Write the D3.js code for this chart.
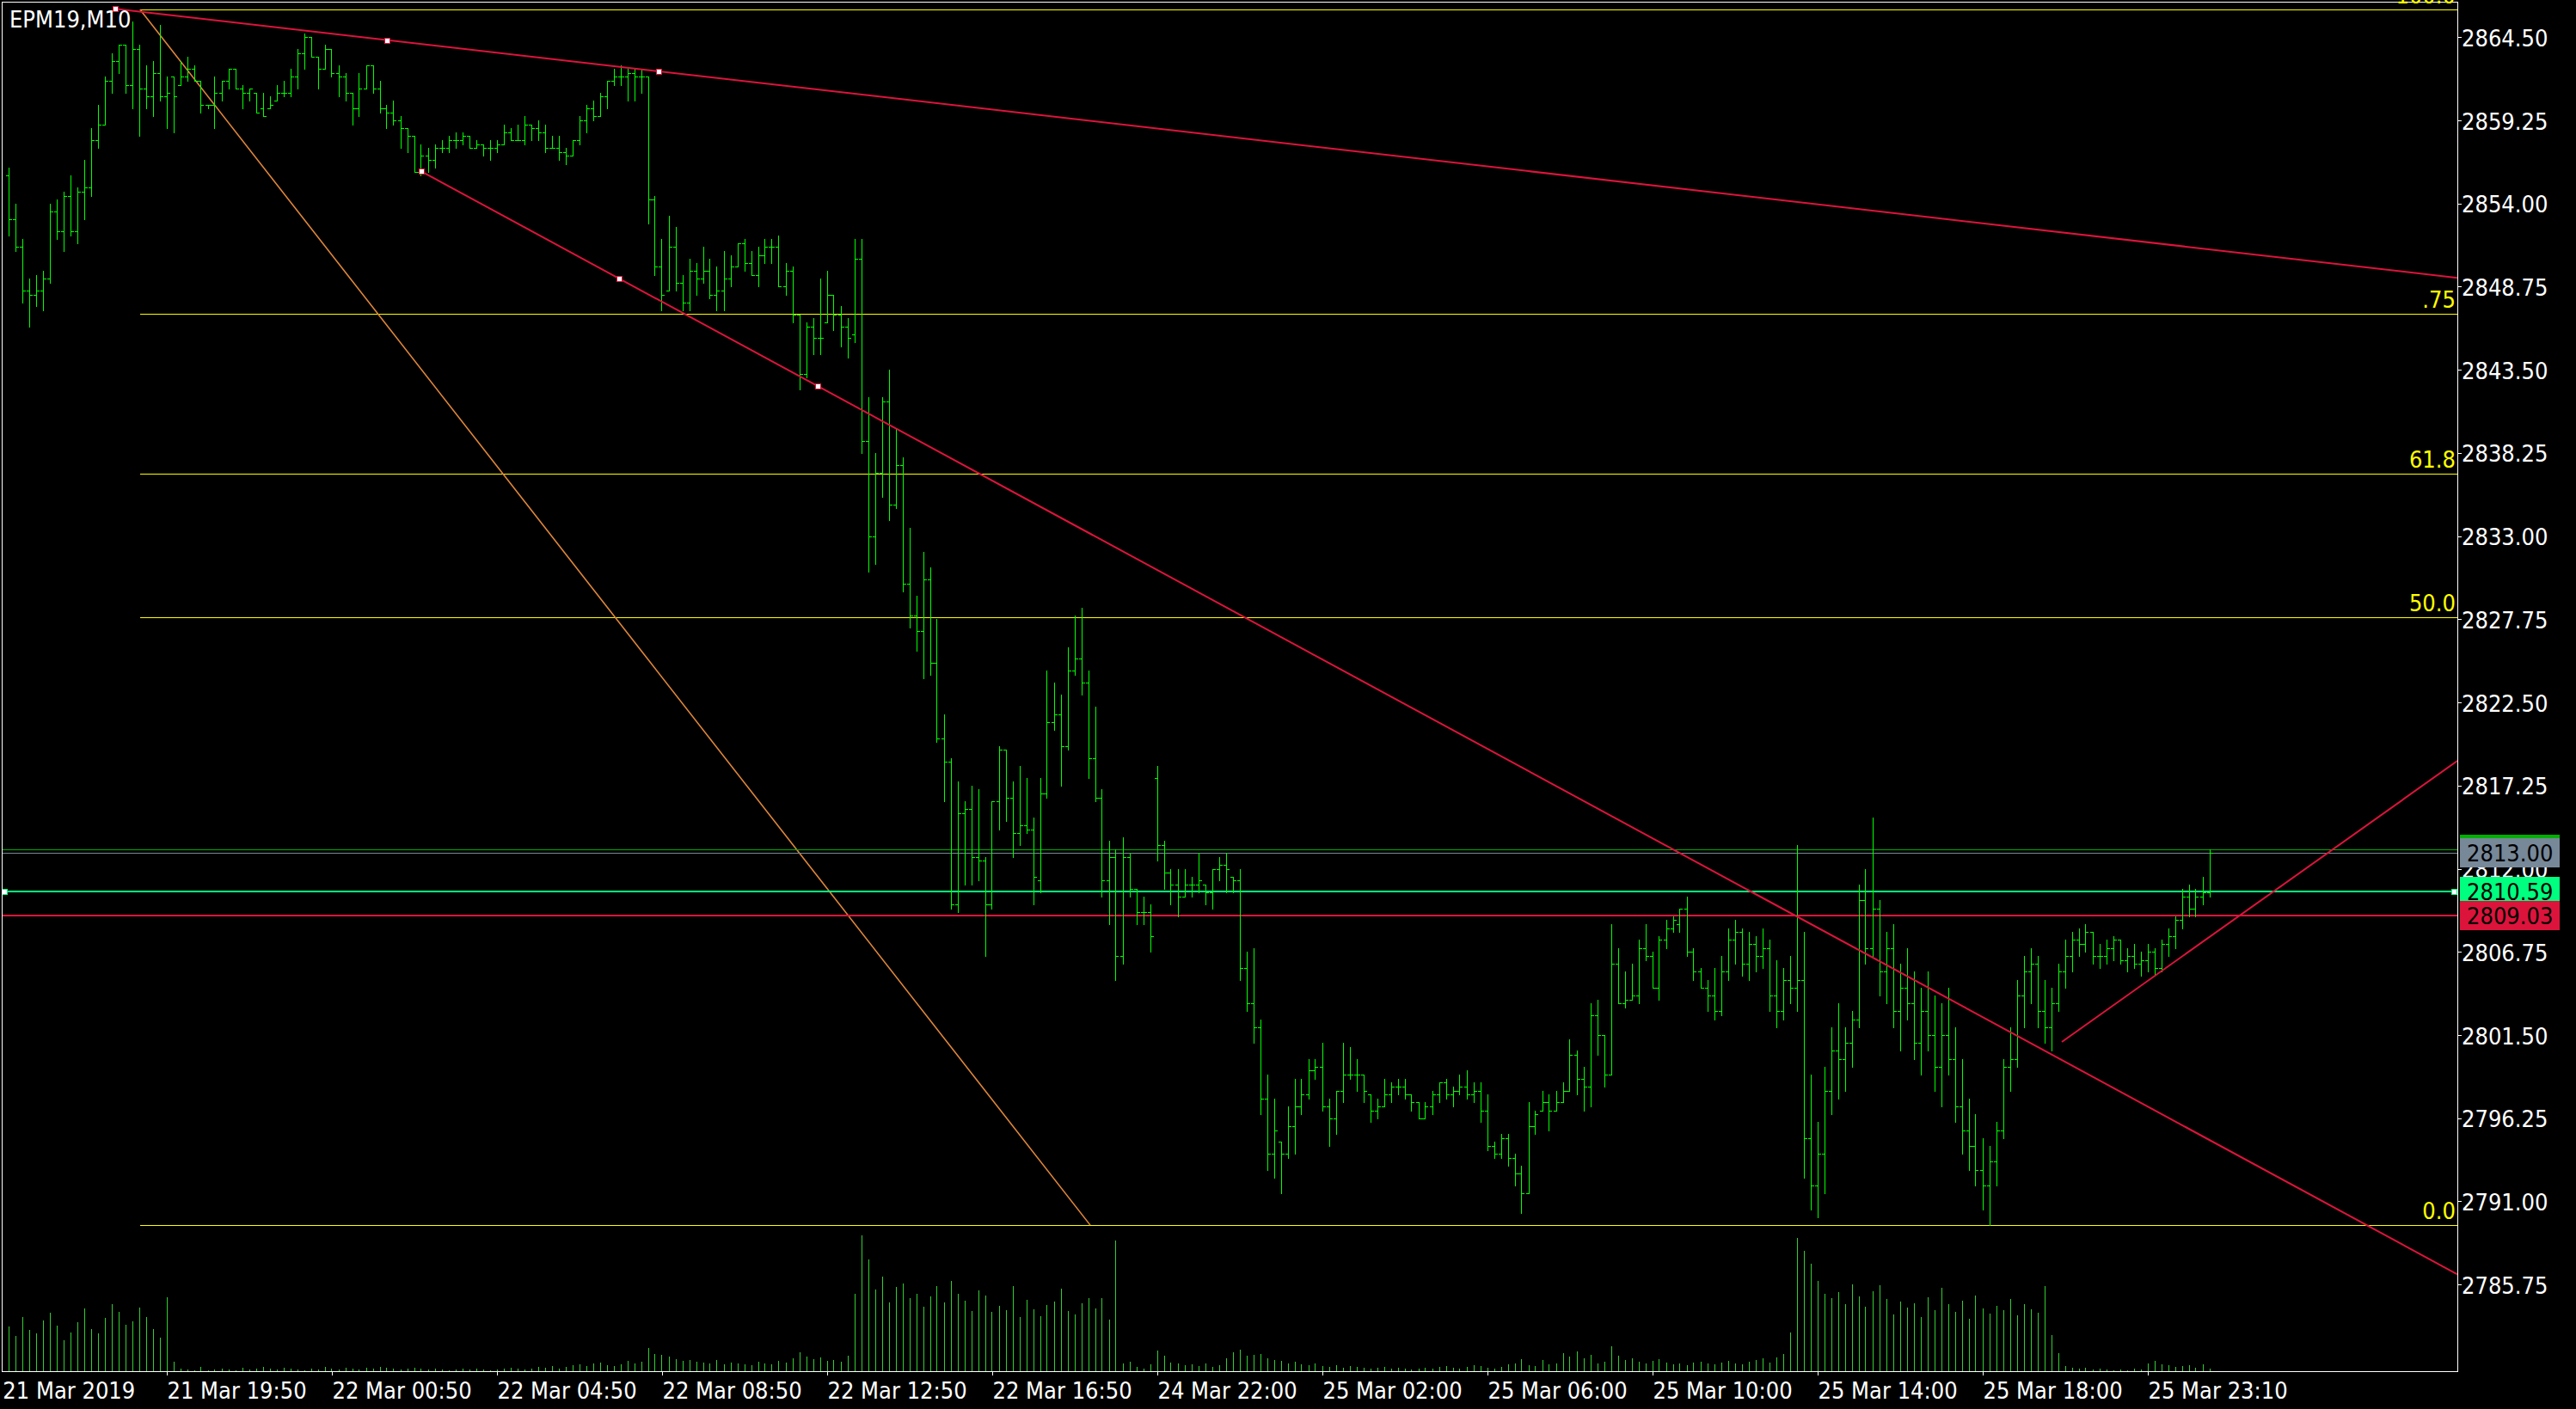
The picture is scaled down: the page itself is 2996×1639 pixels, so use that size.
<!DOCTYPE html>
<html><head><meta charset="utf-8">
<script src="https://cdn.jsdelivr.net/npm/d3@7"></script>
<style>html,body{margin:0;padding:0;background:#000;overflow:hidden}</style>
</head><body>
<svg id="c" width="2996" height="1639"></svg>
<script>
// ---------------- DATA ----------------
const symbolLabel = "EPM19,M10";

const opens = [
2855.75,2853.0,2851.25,2848.5,2848.25,2848.5,2849.25,2853.5,2852.25,2854.5,
2852.25,2854.75,2855.0,2858.0,2859.0,2861.75,2863.0,2864.0,2861.5,2863.75,
2861.25,2860.75,2862.25,2860.75,2862.0,2861.5,2862.0,2862.5,2861.75,2860.25,
2860.25,2861.0,2861.75,2862.5,2861.25,2861.0,2861.0,2860.0,2860.0,2860.5,
2861.0,2861.0,2862.0,2863.5,2864.5,2863.25,2862.5,2863.75,2862.25,2862.0,
2861.0,2860.0,2861.25,2862.75,2861.25,2860.0,2859.75,2859.25,2858.75,2858.25,
2856.0,2857.0,2856.75,2857.5,2857.5,2858.0,2858.0,2858.25,2857.5,2857.75,
2857.5,2857.5,2857.75,2858.5,2858.0,2858.0,2859.0,2858.75,2858.5,2857.5,
2857.5,2857.25,2857.0,2858.0,2859.25,2860.0,2859.5,2860.75,2861.75,2862.0,
2862.0,2862.25,2862.0,2862.0,2854.25,2850.0,2848.5,2851.25,2849.0,2847.75,
2849.75,2849.25,2849.75,2848.25,2848.5,2849.25,2850.0,2851.5,2850.25,2849.5,
2850.75,2851.25,2851.25,2848.75,2849.75,2847.0,2843.25,2846.25,2845.5,2846.5,
2848.25,2847.0,2846.25,2845.75,2850.5,2839.0,2833.0,2837.0,2841.5,2835.0,
2837.5,2830.0,2828.0,2827.0,2830.25,2825.0,2820.25,2818.75,2809.75,2815.5,
2815.75,2812.75,2812.5,2809.75,2816.25,2819.5,2816.5,2814.25,2814.75,2814.5,
2811.25,2816.75,2821.25,2821.75,2819.75,2824.5,2825.25,2823.75,2819.0,2816.5,
2811.25,2812.75,2806.5,2812.75,2810.75,2809.25,2809.25,2817.75,2813.5,2811.75,
2811.0,2810.25,2811.0,2811.0,2811.0,2810.5,2812.0,2812.25,2811.5,2811.25,
2805.75,2803.5,2802.0,2797.5,2794.0,2794.75,2794.0,2795.75,2797.0,2797.75,
2799.25,2799.5,2797.0,2796.25,2798.0,2799.0,2799.0,2799.0,2797.75,2796.75,
2797.0,2797.75,2798.25,2798.25,2797.75,2797.25,2796.25,2797.0,2797.75,2798.5,
2797.75,2798.0,2798.25,2797.75,2798.0,2796.75,2794.5,2794.0,2795.0,2793.75,
2792.75,2791.5,2795.75,2796.75,2797.25,2796.75,2797.25,2798.0,2800.25,2798.75,
2798.25,2802.75,2801.5,2799.0,2806.0,2803.5,2803.75,2804.0,2807.0,2806.5,
2804.5,2807.5,2808.25,2808.5,2809.5,2806.75,2805.5,2804.5,2804.0,2803.0,
2805.5,2807.5,2808.0,2806.0,2807.25,2806.5,2807.0,2804.0,2803.0,2805.0,
2804.5,2805.0,2795.0,2792.0,2794.0,2798.0,2800.5,2800.0,2801.0,2802.5,
2810.0,2807.0,2809.5,2805.5,2807.0,2803.0,2804.5,2803.5,2801.0,2803.0,
2801.5,2799.5,2801.5,2800.0,2797.0,2795.5,2794.5,2793.0,2792.0,2793.5,
2795.5,2799.5,2800.0,2804.0,2805.5,2806.0,2803.0,2802.0,2803.5,2805.5,
2806.5,2807.5,2807.25,2808.0,2806.5,2806.5,2807.0,2807.5,2806.25,2806.5,
2806.0,2806.25,2806.75,2805.75,2807.25,2807.75,2808.75,2810.25,2809.5,2810.25,
2810.5
];
const highs = [
2856.25,2854.0,2851.75,2849.25,2849.5,2849.75,2854.0,2854.25,2854.75,2855.75,
2855.0,2856.75,2858.75,2860.25,2862.0,2863.5,2864.0,2864.0,2865.5,2864.0,
2862.75,2863.0,2865.25,2862.0,2862.0,2863.0,2863.25,2862.75,2861.75,2860.25,
2862.0,2861.75,2862.5,2862.5,2861.5,2861.25,2861.0,2861.0,2860.75,2861.5,
2861.75,2862.5,2863.75,2864.75,2864.5,2863.25,2864.0,2863.75,2862.75,2862.25,
2861.0,2862.25,2862.75,2862.75,2861.75,2860.25,2860.5,2859.5,2858.75,2858.25,
2857.75,2857.5,2857.75,2858.0,2858.25,2858.5,2858.5,2858.25,2858.0,2857.75,
2858.0,2858.0,2859.0,2858.75,2859.0,2859.5,2859.0,2859.25,2859.0,2858.25,
2858.25,2857.5,2858.0,2859.5,2860.25,2860.5,2861.0,2861.75,2862.5,2862.75,
2862.5,2862.5,2862.5,2862.0,2854.5,2851.75,2853.25,2852.5,2849.5,2850.5,
2850.25,2851.25,2850.5,2850.0,2851.0,2850.75,2851.5,2851.75,2851.0,2851.25,
2851.75,2851.75,2852.0,2850.25,2850.0,2847.0,2846.5,2846.75,2849.25,2849.75,
2848.25,2847.5,2846.75,2851.75,2851.75,2841.75,2838.25,2841.75,2843.5,2839.75,
2838.0,2833.5,2829.25,2832.0,2831.0,2827.75,2821.75,2819.0,2817.5,2816.25,
2817.25,2817.0,2812.75,2816.25,2819.75,2819.5,2817.5,2818.5,2817.75,2815.25,
2817.75,2824.5,2823.75,2823.0,2826.0,2828.0,2828.5,2824.5,2822.25,2817.0,
2813.75,2813.25,2814.0,2813.0,2810.75,2810.25,2809.75,2818.5,2813.75,2812.0,
2812.0,2812.0,2811.5,2813.0,2811.0,2812.0,2812.75,2813.0,2811.5,2812.0,
2806.75,2807.0,2802.5,2799.0,2797.5,2794.75,2797.0,2798.75,2798.75,2800.0,
2800.0,2801.0,2797.5,2798.0,2801.0,2800.75,2800.0,2799.0,2797.75,2797.5,
2798.75,2798.5,2798.75,2798.75,2797.75,2797.25,2797.25,2798.0,2798.5,2798.75,
2798.25,2799.0,2799.25,2798.5,2798.5,2797.75,2794.75,2795.25,2795.25,2794.0,
2793.25,2797.25,2796.75,2798.0,2797.75,2798.0,2798.5,2801.25,2800.5,2799.5,
2803.5,2803.75,2801.5,2808.5,2807.0,2805.5,2806.0,2807.5,2808.5,2806.75,
2807.75,2808.75,2809.0,2809.5,2810.25,2807.0,2805.75,2805.0,2805.75,2806.5,
2808.25,2808.75,2808.25,2808.0,2807.75,2808.25,2807.5,2806.25,2805.75,2806.5,
2813.5,2808.0,2799.0,2796.0,2799.5,2802.0,2803.5,2802.0,2803.0,2811.0,
2812.0,2815.25,2810.0,2808.0,2808.5,2806.0,2807.0,2805.5,2804.5,2805.5,
2804.0,2803.5,2804.5,2802.0,2800.0,2797.5,2796.5,2795.0,2794.5,2796.0,
2800.0,2802.0,2805.0,2806.5,2807.0,2806.5,2805.0,2804.5,2806.0,2807.5,
2808.0,2808.25,2808.5,2808.0,2807.25,2807.5,2807.75,2807.5,2807.0,2807.25,
2806.75,2807.25,2807.0,2807.5,2808.25,2809.0,2810.75,2811.0,2810.75,2811.5,
2813.25
];
const lows = [
2852.0,2851.0,2847.75,2846.25,2847.5,2847.25,2849.0,2851.75,2851.0,2852.0,
2851.5,2853.0,2854.5,2857.5,2859.0,2861.0,2862.25,2861.0,2860.0,2858.25,
2860.0,2859.5,2860.5,2858.75,2858.5,2861.5,2861.75,2861.75,2859.75,2860.0,
2858.75,2860.5,2861.25,2861.25,2860.0,2860.5,2859.75,2859.5,2860.0,2860.5,
2860.75,2860.75,2861.25,2862.5,2863.25,2861.25,2862.5,2862.0,2860.75,2860.5,
2859.0,2859.5,2861.25,2861.0,2859.75,2858.75,2859.0,2857.5,2857.25,2856.0,
2855.75,2856.0,2856.25,2857.25,2857.25,2857.5,2857.75,2857.5,2857.5,2857.0,
2856.75,2857.25,2857.75,2858.0,2858.0,2857.75,2858.0,2858.0,2857.25,2857.5,
2856.75,2856.5,2857.0,2857.75,2858.5,2859.25,2859.5,2860.0,2861.5,2861.5,
2860.5,2860.5,2861.0,2852.75,2849.5,2847.25,2848.5,2848.5,2847.25,2847.25,
2848.25,2849.0,2848.0,2847.25,2847.25,2848.75,2850.0,2849.75,2849.5,2848.75,
2850.25,2850.25,2848.75,2848.25,2846.5,2842.25,2843.0,2844.5,2844.5,2846.5,
2846.0,2845.0,2844.25,2845.25,2838.25,2830.75,2831.25,2835.5,2834.0,2834.75,
2829.5,2827.25,2825.75,2824.0,2824.25,2820.0,2816.25,2809.5,2809.25,2811.0,
2811.0,2811.25,2806.5,2809.5,2814.5,2815.0,2812.75,2813.5,2814.25,2809.75,
2810.5,2816.5,2820.75,2817.25,2819.5,2824.25,2823.0,2817.75,2816.25,2810.25,
2808.5,2805.0,2806.0,2810.25,2808.5,2808.5,2806.75,2812.5,2810.75,2809.75,
2809.0,2810.25,2810.25,2810.5,2809.75,2809.5,2811.25,2810.5,2810.5,2805.0,
2803.0,2801.0,2796.5,2793.0,2792.5,2791.5,2793.75,2794.0,2796.5,2797.5,
2798.75,2796.75,2794.5,2795.25,2797.25,2798.75,2798.0,2797.25,2796.0,2796.25,
2797.0,2797.25,2797.75,2797.5,2796.75,2796.25,2796.25,2796.5,2797.25,2797.5,
2797.0,2797.75,2797.5,2797.25,2796.0,2794.25,2793.75,2793.75,2793.25,2792.0,
2790.25,2791.5,2795.25,2796.75,2795.5,2796.75,2797.25,2798.0,2797.75,2796.75,
2797.0,2800.25,2798.25,2799.0,2803.5,2803.25,2803.75,2803.5,2806.25,2804.5,
2803.75,2807.0,2808.0,2808.0,2806.5,2805.0,2804.5,2803.0,2802.5,2802.75,
2805.0,2806.0,2805.25,2805.0,2805.5,2805.75,2803.0,2802.0,2802.5,2803.5,
2803.0,2792.5,2790.5,2790.0,2791.5,2796.5,2797.5,2798.0,2799.5,2802.0,
2806.0,2806.5,2804.0,2803.5,2802.0,2800.5,2802.5,2800.0,2799.0,2800.5,
2798.0,2797.0,2799.0,2796.0,2794.0,2793.0,2792.0,2790.5,2789.5,2792.0,
2795.0,2798.0,2799.5,2802.0,2803.5,2802.0,2801.0,2800.5,2803.0,2804.5,
2805.5,2806.5,2806.75,2806.0,2805.75,2806.0,2806.25,2806.0,2805.5,2805.75,
2805.25,2805.5,2805.25,2805.5,2806.5,2807.0,2808.25,2809.0,2809.0,2809.75,
2810.25
];
const closes = [
2853.0,2851.25,2848.5,2848.25,2848.5,2849.25,2853.5,2852.25,2854.5,2852.25,
2854.75,2855.0,2858.0,2859.0,2861.75,2863.0,2864.0,2861.5,2863.75,2861.25,
2860.75,2862.25,2860.75,2861.0,2860.75,2862.0,2862.5,2861.75,2860.25,2860.25,
2861.0,2861.75,2862.5,2861.25,2861.0,2861.25,2859.75,2859.5,2860.25,2861.0,
2861.0,2862.0,2863.5,2864.5,2863.25,2862.5,2863.75,2862.25,2862.0,2861.0,
2860.0,2861.25,2862.75,2861.25,2860.0,2859.75,2859.25,2858.75,2858.25,2856.0,
2857.0,2856.75,2857.5,2857.5,2858.0,2858.0,2858.25,2857.5,2857.75,2857.5,
2857.5,2857.75,2858.5,2858.0,2858.0,2859.0,2858.75,2858.5,2857.5,2857.5,
2857.25,2857.0,2858.0,2859.25,2860.0,2859.5,2860.75,2861.75,2862.0,2862.0,
2862.25,2862.0,2862.0,2854.25,2850.0,2848.25,2851.25,2849.0,2847.75,2849.75,
2849.25,2849.75,2848.25,2848.5,2849.25,2850.0,2851.5,2850.25,2849.5,2850.75,
2851.25,2851.25,2848.75,2849.75,2847.0,2843.25,2846.25,2845.5,2845.5,2848.25,
2847.0,2846.25,2845.5,2850.5,2839.0,2833.0,2837.0,2841.5,2835.0,2837.5,
2830.0,2828.0,2827.0,2830.25,2825.0,2820.25,2818.75,2809.75,2815.5,2815.75,
2812.75,2812.5,2809.75,2816.25,2819.5,2816.5,2814.25,2814.75,2814.5,2811.5,
2816.75,2821.25,2821.75,2819.75,2824.5,2825.25,2823.75,2819.0,2816.5,2811.25,
2812.75,2806.5,2812.75,2810.75,2809.25,2809.25,2807.75,2813.5,2811.75,2811.0,
2810.25,2811.0,2811.0,2811.25,2810.5,2812.0,2812.25,2812.0,2811.25,2805.75,
2803.5,2802.0,2797.5,2794.0,2795.5,2794.0,2795.75,2797.0,2797.75,2799.25,
2799.5,2797.0,2796.25,2798.0,2799.0,2799.0,2799.0,2798.0,2796.75,2797.0,
2797.75,2798.25,2798.25,2797.75,2797.25,2796.25,2797.0,2797.75,2798.5,2797.75,
2798.0,2798.25,2797.75,2798.0,2796.75,2794.5,2794.0,2795.0,2793.75,2792.75,
2791.5,2795.75,2796.5,2797.25,2796.75,2797.25,2798.0,2800.25,2798.75,2798.25,
2802.75,2801.5,2799.0,2806.0,2803.5,2803.75,2804.0,2807.0,2806.5,2804.5,
2807.5,2808.25,2808.75,2809.5,2806.75,2805.5,2804.5,2804.0,2803.0,2805.5,
2807.5,2808.0,2806.0,2807.25,2806.5,2807.0,2804.0,2803.0,2805.0,2804.5,
2805.0,2795.0,2792.0,2794.0,2798.0,2800.5,2800.0,2801.0,2802.5,2810.0,
2807.0,2809.5,2805.5,2807.0,2803.0,2804.5,2803.5,2801.0,2803.0,2801.5,
2799.5,2801.5,2800.0,2797.0,2795.5,2794.5,2793.0,2792.0,2793.5,2795.5,
2799.5,2800.0,2804.0,2805.5,2806.0,2803.0,2802.0,2803.5,2805.5,2806.5,
2807.5,2807.25,2808.0,2806.5,2806.5,2807.0,2807.5,2806.25,2806.5,2806.0,
2806.25,2806.75,2805.75,2807.25,2807.75,2808.75,2810.25,2809.5,2810.25,2810.5,
2813.0
];
const volumes = [
5200,4100,6300,4800,4400,5900,6800,5300,3600,4500,
5700,7300,4900,4400,6200,7800,6900,5400,5800,7400,
6300,4900,3900,8600,1100,300,200,100,500,100,
200,300,200,100,400,200,300,500,300,200,
400,300,200,100,300,200,500,300,200,400,
300,200,400,300,500,400,300,200,300,400,
300,200,300,200,100,200,300,200,300,200,
100,200,300,400,300,200,300,500,400,600,
300,500,700,800,600,900,1000,700,600,800,
1200,900,1100,2700,2000,1900,1700,1400,1200,1300,
1100,1000,900,1300,800,1000,900,800,700,1100,
900,800,1200,1000,1500,2200,1700,1400,1600,1200,
1300,1100,1800,9000,15800,13000,9500,11000,8000,9800,
10200,8500,9000,7500,8700,9900,8000,10500,9000,8200,
7000,9400,8800,6900,7600,7100,9900,6300,8300,7200,
6400,7700,8100,9600,7000,6600,7900,8500,7300,8500,
6000,15200,900,1100,500,300,800,2400,1800,1000,
900,700,800,600,900,500,700,1500,2200,2500,
1800,1900,2000,1500,1300,1200,900,1100,800,700,
900,600,500,700,400,600,500,400,300,400,
500,300,400,300,200,300,400,300,500,600,
400,300,500,700,600,400,300,500,800,900,
1400,700,600,1300,800,900,2100,1700,2300,1500,
1900,900,1100,2900,1800,1300,1500,1100,900,1200,
1400,1000,800,900,700,1000,1100,900,800,1000,
1200,900,800,1100,1300,1500,1000,1600,2000,4500,
15500,14000,12500,10500,9000,8500,9200,7800,10100,8700,
7500,9300,10000,8400,6600,8100,7400,7900,6300,8600,
7100,9700,7800,6900,8200,6100,8800,7300,6700,7600,
7100,8400,6500,7800,7200,6800,9900,4200,2100,600,
400,300,400,200,300,200,100,200,150,300,
200,900,1200,800,700,500,600,700,400,800,
300
];

const priceTicks = [2864.50,2859.25,2854.00,2848.75,2843.50,2838.25,2833.00,2827.75,2822.50,2817.25,2812.00,2806.75,2801.50,2796.25,2791.00,2785.75];
const timeLabels = ["21 Mar 2019","21 Mar 19:50","22 Mar 00:50","22 Mar 04:50","22 Mar 08:50","22 Mar 12:50","22 Mar 16:50","24 Mar 22:00","25 Mar 02:00","25 Mar 06:00","25 Mar 10:00","25 Mar 14:00","25 Mar 18:00","25 Mar 23:10"];
const timeLabelBars = [-0.9,23,47,71,95,119,143,167,191,215,239,263,287,311];

// Fibonacci retracement object
const fibStart = {bar: 19.1, price: 2866.25};
const fibEnd = {bar: 157.25, price: 2789.50};
const fibLevels = [1, 0.75, 0.618, 0.5, 0];
const fibLabels = ["100.0", ".75", "61.8", "50.0", "0.0"];

// Trend lines (rays to the right)
const trendLines = [
  {p1: {bar: 15.5, price: 2866.29}, p2: {bar: 94.5, price: 2862.35}, handles: true},
  {p1: {bar: 60, price: 2856.03}, p2: {bar: 117.6, price: 2842.48}, handles: true},
  {p1: {bar: 298.5, price: 2801.07}, p2: {bar: 356, price: 2818.81}, handles: false}
];

const askPrice = 2813.25, bidPrice = 2813.00;
const hLines = [
  {price: 2810.59, color: "#00ff7f", label: "2810.59", handles: true},
  {price: 2809.03, color: "#dc143c", label: "2809.03", handles: false}
];

// ---------------- CHART ----------------
const plot = {left: 2, top: 2, right: 2858, bottom: 1595};
const priceTop = 2866.74, priceBottom = 2780.28;
const lastVisibleBar = 356;
const FONT = "DejaVu Sans";
const FS = 27;

const svg = d3.select("#c");
svg.append("rect").attr("width", 2996).attr("height", 1639).attr("fill", "#000");

const y = d3.scaleLinear().domain([priceBottom, priceTop]).range([plot.bottom, plot.top]);
const x = d3.scaleLinear().domain([0, lastVisibleBar]).range([10, plot.right]);
const vy = d3.scaleLinear().domain([0, d3.max(volumes)]).range([plot.bottom, plot.bottom - 158]);

const col = i => Math.floor(x(i)) + 0.5;
const ry = p => Math.round(y(p)) + 0.5;

svg.append("defs").append("clipPath").attr("id", "clip")
  .append("rect").attr("x", plot.left).attr("y", plot.top)
  .attr("width", plot.right - plot.left).attr("height", plot.bottom - plot.top);

const g = svg.append("g").attr("clip-path", "url(#clip)");

const bars = d3.range(closes.length).map(i => ({i, o: opens[i], h: highs[i], l: lows[i], c: closes[i], v: volumes[i]}));

// volumes
g.append("g").selectAll("line").data(bars).join("line")
  .attr("x1", d => col(d.i)).attr("x2", d => col(d.i))
  .attr("y1", plot.bottom).attr("y2", d => Math.round(vy(d.v)))
  .attr("stroke", "#32cd32").attr("stroke-width", 1).attr("shape-rendering", "crispEdges");

// fib levels
const fibPrice = lv => fibEnd.price + (fibStart.price - fibEnd.price) * lv;
g.append("g").selectAll("line").data(fibLevels).join("line")
  .attr("x1", x(fibStart.bar)).attr("x2", plot.right)
  .attr("y1", d => ry(fibPrice(d))).attr("y2", d => ry(fibPrice(d)))
  .attr("stroke", "#ffff00").attr("stroke-width", 1).attr("shape-rendering", "crispEdges");
// fib diagonal
g.append("line")
  .attr("x1", x(fibStart.bar)).attr("y1", y(fibStart.price))
  .attr("x2", x(fibEnd.bar)).attr("y2", y(fibEnd.price))
  .attr("stroke", "#e0873a").attr("stroke-width", 1.6);

// ask / bid lines
g.append("line").attr("x1", plot.left).attr("x2", plot.right)
  .attr("y1", ry(askPrice)).attr("y2", ry(askPrice))
  .attr("stroke", "#00b000").attr("stroke-width", 1).attr("shape-rendering", "crispEdges");
g.append("line").attr("x1", plot.left).attr("x2", plot.right)
  .attr("y1", ry(bidPrice)).attr("y2", ry(bidPrice))
  .attr("stroke", "#778899").attr("stroke-width", 1).attr("shape-rendering", "crispEdges");

// horizontal line objects
g.append("g").selectAll("line").data(hLines).join("line")
  .attr("x1", plot.left).attr("x2", plot.right)
  .attr("y1", d => Math.round(y(d.price))).attr("y2", d => Math.round(y(d.price)))
  .attr("stroke", d => d.color).attr("stroke-width", 2).attr("shape-rendering", "crispEdges");

// OHLC bars
g.append("g").selectAll("path").data(bars).join("path")
  .attr("d", d => {
    const cx = col(d.i);
    const yh = Math.round(y(d.h)), yl = Math.round(y(d.l)) + 1;
    const yo = ry(d.o), yc = ry(d.c);
    return `M${cx},${yh}V${yl}M${cx - 3.5},${yo}H${cx}M${cx},${yc}H${cx + 3.5}`;
  })
  .attr("fill", "none").attr("stroke", "#00ff00").attr("stroke-width", 1)
  .attr("shape-rendering", "crispEdges");

// trend lines
const tlg = g.append("g");
trendLines.forEach(t => {
  const slope = (t.p2.price - t.p1.price) / (t.p2.bar - t.p1.bar);
  const endPrice = t.p1.price + slope * (lastVisibleBar - t.p1.bar);
  tlg.append("line")
    .attr("x1", x(t.p1.bar)).attr("y1", y(t.p1.price))
    .attr("x2", x(lastVisibleBar)).attr("y2", y(endPrice))
    .attr("stroke", "#dc143c").attr("stroke-width", 2);
});
// handles
const handleData = [];
trendLines.filter(t => t.handles).forEach(t => {
  const mid = {bar: (t.p1.bar + t.p2.bar) / 2, price: (t.p1.price + t.p2.price) / 2};
  [t.p1, mid, t.p2].forEach(p => handleData.push({cx: x(p.bar), cy: y(p.price), stroke: "#dc143c"}));
});
hLines.filter(h => h.handles).forEach(h => {
  handleData.push({cx: plot.left + 3, cy: y(h.price), stroke: h.color});
  handleData.push({cx: plot.right - 4, cy: y(h.price), stroke: h.color});
});
svg.append("g").selectAll("rect").data(handleData).join("rect")
  .attr("x", d => Math.round(d.cx) - 3 + 0.5).attr("y", d => Math.round(d.cy) - 3 + 0.5)
  .attr("width", 6).attr("height", 6)
  .attr("fill", "#fff").attr("stroke", d => d.stroke).attr("stroke-width", 1)
  .attr("shape-rendering", "crispEdges");

// frame
svg.append("rect").attr("x", plot.left + 0.5).attr("y", plot.top + 0.5)
  .attr("width", plot.right - plot.left).attr("height", plot.bottom - plot.top)
  .attr("fill", "none").attr("stroke", "#fff").attr("stroke-width", 1).attr("shape-rendering", "crispEdges");

// fib labels
svg.append("g").selectAll("text").data(fibLevels).join("text")
  .attr("transform", d => `translate(${plot.right - 2},${Math.round(y(fibPrice(d))) - 7}) scale(0.9,1)`)
  .attr("text-anchor", "end").attr("font-family", FONT).attr("font-size", FS)
  .attr("fill", "#ffff00").text((d, i) => fibLabels[i]);

// price axis
const yAxis = d3.axisRight(y).tickValues(priceTicks).tickSize(5).tickPadding(0).tickFormat(d3.format(".2f"));
const gy = svg.append("g").attr("transform", `translate(${plot.right},0)`).call(yAxis);
gy.select(".domain").remove();
gy.selectAll(".tick line").attr("stroke", "#fff").attr("shape-rendering", "crispEdges");
gy.selectAll(".tick text").attr("x", null).attr("dy", null)
  .attr("transform", "translate(5,10) scale(0.9,1)")
  .attr("fill", "#fff").attr("font-family", FONT).attr("font-size", FS).attr("text-anchor", "start");

// time axis
const xAxis = d3.axisBottom(x).tickValues(timeLabelBars).tickSize(5).tickPadding(0)
  .tickFormat((d, i) => timeLabels[i]);
const gx = svg.append("g").attr("transform", `translate(0,${plot.bottom})`).call(xAxis);
gx.select(".domain").remove();
gx.selectAll(".tick line").attr("stroke", "#fff").attr("shape-rendering", "crispEdges")
  .filter((d, i) => i === 0).remove();
gx.selectAll(".tick text").attr("y", null).attr("dy", null)
  .attr("transform", "translate(0,32) scale(0.9,1)")
  .attr("fill", "#fff").attr("font-family", FONT).attr("font-size", FS).attr("text-anchor", "start");

// price label boxes
const boxes = [
  {price: askPrice, fill: "#00b000", label: ""},
  {price: bidPrice, fill: "#778899", label: d3.format(".2f")(bidPrice)},
  ...hLines.map(h => ({price: h.price, fill: h.color, label: h.label}))
];
const bg = svg.append("g");
boxes.forEach(b => {
  const cy = Math.round(y(b.price));
  bg.append("rect").attr("x", plot.right + 3).attr("y", cy - 17).attr("width", 116).attr("height", 34)
    .attr("fill", b.fill).attr("shape-rendering", "crispEdges");
  if (b.label) bg.append("text")
    .attr("transform", `translate(${plot.right + 11},${cy + 10}) scale(0.9,1)`)
    .attr("font-family", FONT).attr("font-size", FS).attr("fill", "#000").text(b.label);
});

// symbol label
svg.append("text").attr("transform", "translate(11,32) scale(0.9,1)")
  .attr("font-family", FONT).attr("font-size", FS).attr("fill", "#fff").text(symbolLabel);
</script>
</body></html>
